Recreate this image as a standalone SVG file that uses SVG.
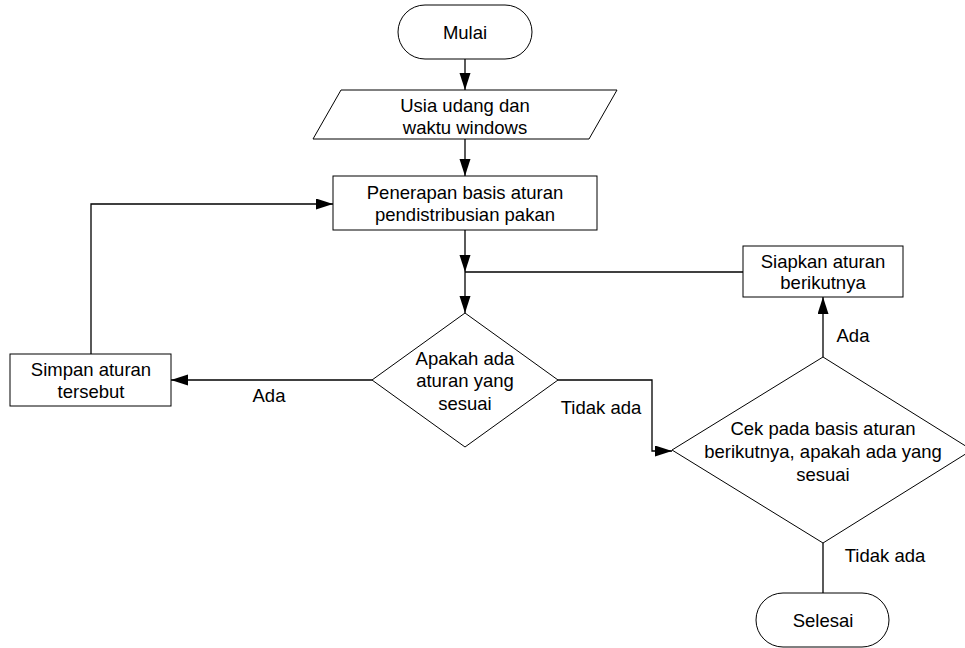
<svg xmlns="http://www.w3.org/2000/svg" width="965" height="648" viewBox="0 0 965 648">
<defs>
<style>
.s{fill:#fff;stroke:#000;stroke-width:1}
.t{font-family:"Liberation Sans",Arial,sans-serif;font-size:18.5px;fill:#000;text-anchor:middle}
.c{fill:none;stroke:#000;stroke-width:1.3}
</style>
<marker id="ah" markerUnits="userSpaceOnUse" markerWidth="18" markerHeight="12" refX="17" refY="5.5" orient="auto">
<path d="M0,0 L17,5.5 L0,11 z" fill="#000"/>
</marker>
</defs>
<rect width="965" height="648" fill="#fff"/>
<g id="connectors">
<path class="c" d="M465,59 V90" marker-end="url(#ah)"/>
<path class="c" d="M465,139 V176" marker-end="url(#ah)"/>
<path class="c" d="M465,230 V272" marker-end="url(#ah)"/>
<path class="c" d="M465,272 V313" marker-end="url(#ah)"/>
<path class="c" d="M743,272 H465"/>
<path class="c" d="M372,380 H171" marker-end="url(#ah)"/>
<path class="c" d="M91,354 V204 H333" marker-end="url(#ah)"/>
<path class="c" d="M558,380 H652 V451 H672" marker-end="url(#ah)"/>
<path class="c" d="M823,357 V297" marker-end="url(#ah)"/>
<path class="c" d="M823,543 V593"/>
<text class="t" x="269" y="402">Ada</text>
<text class="t" x="601" y="414">Tidak ada</text>
<text class="t" x="853" y="342">Ada</text>
<text class="t" x="885" y="562">Tidak ada</text>
</g>
<g id="mulai">
<rect class="s" x="398" y="5" width="134" height="54" rx="27" ry="27"/>
<text class="t" x="465" y="38.5">Mulai</text>
</g>
<g id="input">
<polygon class="s" points="341,90 617,90 589,139 313,139"/>
<text class="t" x="465" y="112">Usia udang dan</text>
<text class="t" x="465" y="133.5">waktu windows</text>
</g>
<g id="penerapan">
<rect class="s" x="333" y="176" width="264" height="54"/>
<text class="t" x="465" y="198.5">Penerapan basis aturan</text>
<text class="t" x="465" y="220.5">pendistribusian pakan</text>
</g>
<g id="siapkan">
<rect class="s" x="743" y="246" width="160" height="51"/>
<text class="t" x="823" y="267.5">Siapkan aturan</text>
<text class="t" x="823" y="289">berikutnya</text>
</g>
<g id="apakah">
<polygon class="s" points="465,313 558,380 465,447 372,380"/>
<text class="t" x="465" y="364.5">Apakah ada</text>
<text class="t" x="465" y="387">aturan yang</text>
<text class="t" x="465" y="409.5">sesuai</text>
</g>
<g id="simpan">
<rect class="s" x="10" y="354" width="161" height="52"/>
<text class="t" x="91" y="375.5">Simpan aturan</text>
<text class="t" x="91" y="397.5">tersebut</text>
</g>
<g id="cek">
<polygon class="s" points="823,357 972,450 823,543 672,450"/>
<text class="t" x="823" y="434.5">Cek pada basis aturan</text>
<text class="t" x="823" y="458">berikutnya, apakah ada yang</text>
<text class="t" x="823" y="480.5">sesuai</text>
</g>
<g id="selesai">
<rect class="s" x="756" y="593" width="133" height="54" rx="27" ry="27"/>
<text class="t" x="823" y="626.5">Selesai</text>
</g>
</svg>
